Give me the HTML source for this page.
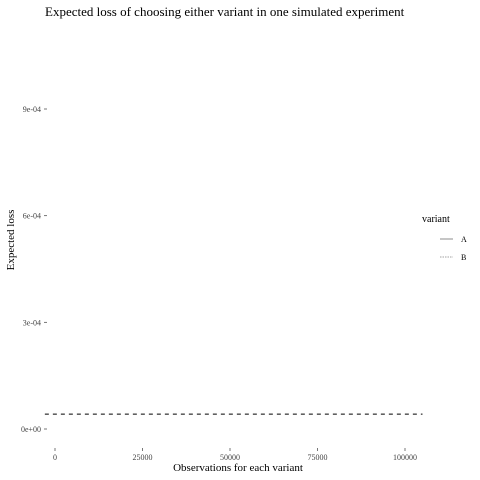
<!DOCTYPE html>
<html><head><meta charset="utf-8"><style>
body{margin:0;background:#fff}
svg{display:block;font-family:"Liberation Serif",serif}
</style></head><body>
<svg width="480" height="480">
<text x="45" y="16" font-size="13">Expected loss of choosing either variant in one simulated experiment</text>
<text transform="translate(14,240) rotate(-90)" text-anchor="middle" font-size="11">Expected loss</text>
<text x="238" y="471" text-anchor="middle" font-size="11">Observations for each variant</text>
<g id="yaxis"></g>
<g id="xaxis"></g>
<g id="series"></g>
<g>
<text x="422" y="222" font-size="10">variant</text>
<line x1="440" x2="453" y1="239" y2="239" stroke="#444" stroke-width="0.6"/>
<text x="461" y="242" font-size="8">A</text>
<line x1="440" x2="453" y1="257" y2="257" stroke="#444" stroke-width="0.6" stroke-dasharray="1.5,1"/>
<text x="461" y="260" font-size="8">B</text>
</g>
</svg>
<script>
const xTicks=[0,25000,50000,75000,100000];
const xTickLabels=["0","25000","50000","75000","100000"];
const yTicks=[0,0.0003,0.0006,0.0009];
const yTickLabels=["0e+00","3e-04","6e-04","9e-04"];
const obsB=[-2900,105000];
const lossB=[0.000042,0.000042];
const NS="http://www.w3.org/2000/svg";
const sx=v=>55+v*0.0035;
const sy=v=>429-v*(320/0.0009);
function mk(t,a,p){const e=document.createElementNS(NS,t);for(const k in a)e.setAttribute(k,a[k]);p.appendChild(e);return e;}
const ya=document.getElementById('yaxis'),xa=document.getElementById('xaxis'),se=document.getElementById('series');
yTicks.forEach((v,i)=>{
 const l=mk('line',{x1:44,x2:47,y1:sy(v),y2:sy(v),stroke:'#555','stroke-width':0.8},ya);
 
 
 const t=mk('text',{x:41,y:sy(v)+3,'text-anchor':'end','font-size':8,fill:'#444'},ya);
 t.textContent=yTickLabels[i];
 
 
});
xTicks.forEach((v,i)=>{
 const l=mk('line',{x1:sx(v),x2:sx(v),y1:448,y2:451,stroke:'#555','stroke-width':0.8},xa);
 
 
 const t=mk('text',{x:sx(v),y:460,'text-anchor':'middle','font-size':8,fill:'#444'},xa);
 t.textContent=xTickLabels[i];
 
 
});
const p=mk('polyline',{points:obsB.map((x,i)=>sx(x)+','+sy(lossB[i])).join(' '),fill:'none',stroke:'#000','stroke-width':1,'stroke-dasharray':'4,4'},se);


</script>
</body></html>
